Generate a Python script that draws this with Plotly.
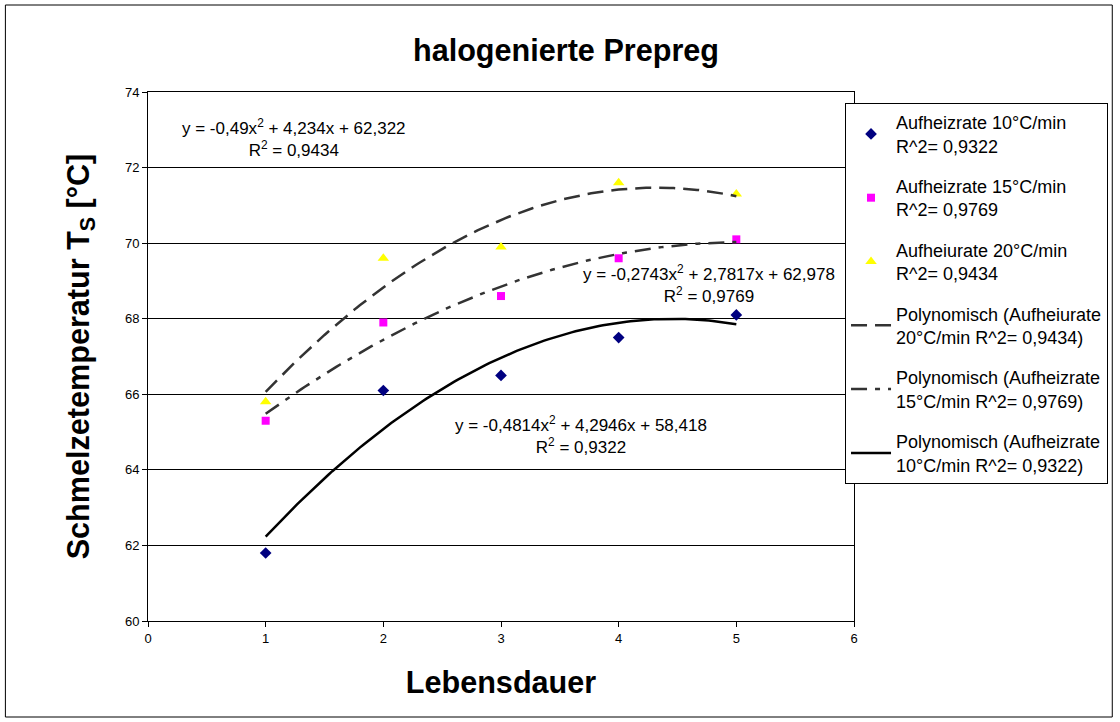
import numpy as np
import plotly.graph_objects as go

# Lebensdauer (x) and measured melt temperatures per heating rate
lebensdauer = [1, 2, 3, 4, 5]
temp_10 = [61.8, 66.1, 66.5, 67.5, 68.1]
temp_15 = [65.3, 67.9, 68.6, 69.6, 70.1]
temp_20 = [65.8, 69.6, 69.9, 71.6, 71.3]

# Polynomial trendline coefficients (a, b, c) for y = a*x^2 + b*x + c
coef_10 = (-0.4814, 4.2946, 58.418)
coef_15 = (-0.2743, 2.7817, 62.978)
coef_20 = (-0.49, 4.234, 62.322)

x_fit = np.linspace(1, 5, 121)


def poly(c, x):
    return c[0] * x ** 2 + c[1] * x + c[2]


FONT = "Liberation Sans, Arial, sans-serif"

fig = go.Figure()

fig.add_trace(go.Scatter(
    x=lebensdauer, y=temp_10, mode="markers", legendgroup="a",
    name="Aufheizrate 10°C/min<br>R^2= 0,9322",
    marker=dict(symbol="diamond", size=9, color="#000080")))
fig.add_trace(go.Scatter(
    x=lebensdauer, y=temp_15, mode="markers", legendgroup="b",
    name="Aufheizrate 15°C/min<br>R^2= 0,9769",
    marker=dict(symbol="square", size=8, color="#FF00FF")))
fig.add_trace(go.Scatter(
    x=lebensdauer, y=temp_20, mode="markers", legendgroup="c",
    name="Aufheiurate 20°C/min<br>R^2= 0,9434",
    marker=dict(symbol="triangle-up", size=10, color="#FFFF00")))

fig.add_trace(go.Scatter(
    x=x_fit, y=poly(coef_20, x_fit), mode="lines", legendgroup="d",
    name="Polynomisch (Aufheiurate<br>20°C/min R^2= 0,9434)",
    line=dict(color="#333333", width=2.5, dash="16px,8px")))
fig.add_trace(go.Scatter(
    x=x_fit, y=poly(coef_15, x_fit), mode="lines", legendgroup="e",
    name="Polynomisch (Aufheizrate<br>15°C/min R^2= 0,9769)",
    line=dict(color="#333333", width=2.5, dash="16px,8px,5px,8px")))
fig.add_trace(go.Scatter(
    x=x_fit, y=poly(coef_10, x_fit), mode="lines", legendgroup="f",
    name="Polynomisch (Aufheizrate<br>10°C/min R^2= 0,9322)",
    line=dict(color="#000000", width=2.5)))

eq_font = dict(family=FONT, size=17, color="black")
annotations = [
    dict(x=1.237, y=72.78, text="y = -0,49x<sup>2</sup> + 4,234x + 62,322<br>R<sup>2</sup> = 0,9434"),
    dict(x=4.77, y=68.91, text="y = -0,2743x<sup>2</sup> + 2,7817x + 62,978<br>R<sup>2</sup> = 0,9769"),
    dict(x=3.68, y=64.91, text="y = -0,4814x<sup>2</sup> + 4,2946x + 58,418<br>R<sup>2</sup> = 0,9322"),
]
for a in annotations:
    a.update(xref="x", yref="y", showarrow=False, font=eq_font, align="center")

fig.update_layout(
    width=1120, height=722,
    margin=dict(l=148, r=264, t=92, b=101),
    paper_bgcolor="white", plot_bgcolor="white",
    font=dict(family=FONT, color="black"),
    title=dict(text="<b>halogenierte Prepreg</b>", x=(566 / 1120), xanchor="center",
               y=1 - 50 / 722, yanchor="middle", font=dict(size=30.6, family=FONT)),
    annotations=annotations,
    legend=dict(x=(847 - 148) / 708, y=(621 - 103) / 529, xanchor="left", yanchor="top",
                bordercolor="black", borderwidth=1, bgcolor="white",
                font=dict(size=18, family=FONT), tracegroupgap=14,
                itemwidth=40),
    showlegend=True,
    shapes=[dict(type="rect", xref="paper", yref="paper",
                 x0=(5 - 148) / 708, x1=(1115 - 148) / 708,
                 y0=(621 - 717) / 529, y1=(621 - 5) / 529,
                 line=dict(color="black", width=1), layer="below")],
)

fig.update_xaxes(range=[0, 6], dtick=1, tick0=0, showgrid=False, zeroline=False,
                 showline=True, linecolor="black", linewidth=1, mirror=True,
                 ticks="outside", ticklen=5, tickcolor="black",
                 tickfont=dict(size=13, family=FONT),
                 title=dict(text="<b>Lebensdauer</b>", font=dict(size=30.6, family=FONT), standoff=26))
fig.update_yaxes(range=[60, 74], dtick=2, tick0=60, showgrid=True, gridcolor="black",
                 gridwidth=1, zeroline=False,
                 showline=True, linecolor="black", linewidth=1, mirror=True,
                 ticks="outside", ticklen=5, tickcolor="black",
                 tickfont=dict(size=13, family=FONT),
                 title=dict(text="<b>Schmelzetemperatur T<sub>S</sub> [°C]</b>",
                            font=dict(size=30.6, family=FONT), standoff=26))

fig.write_html("out.html")
